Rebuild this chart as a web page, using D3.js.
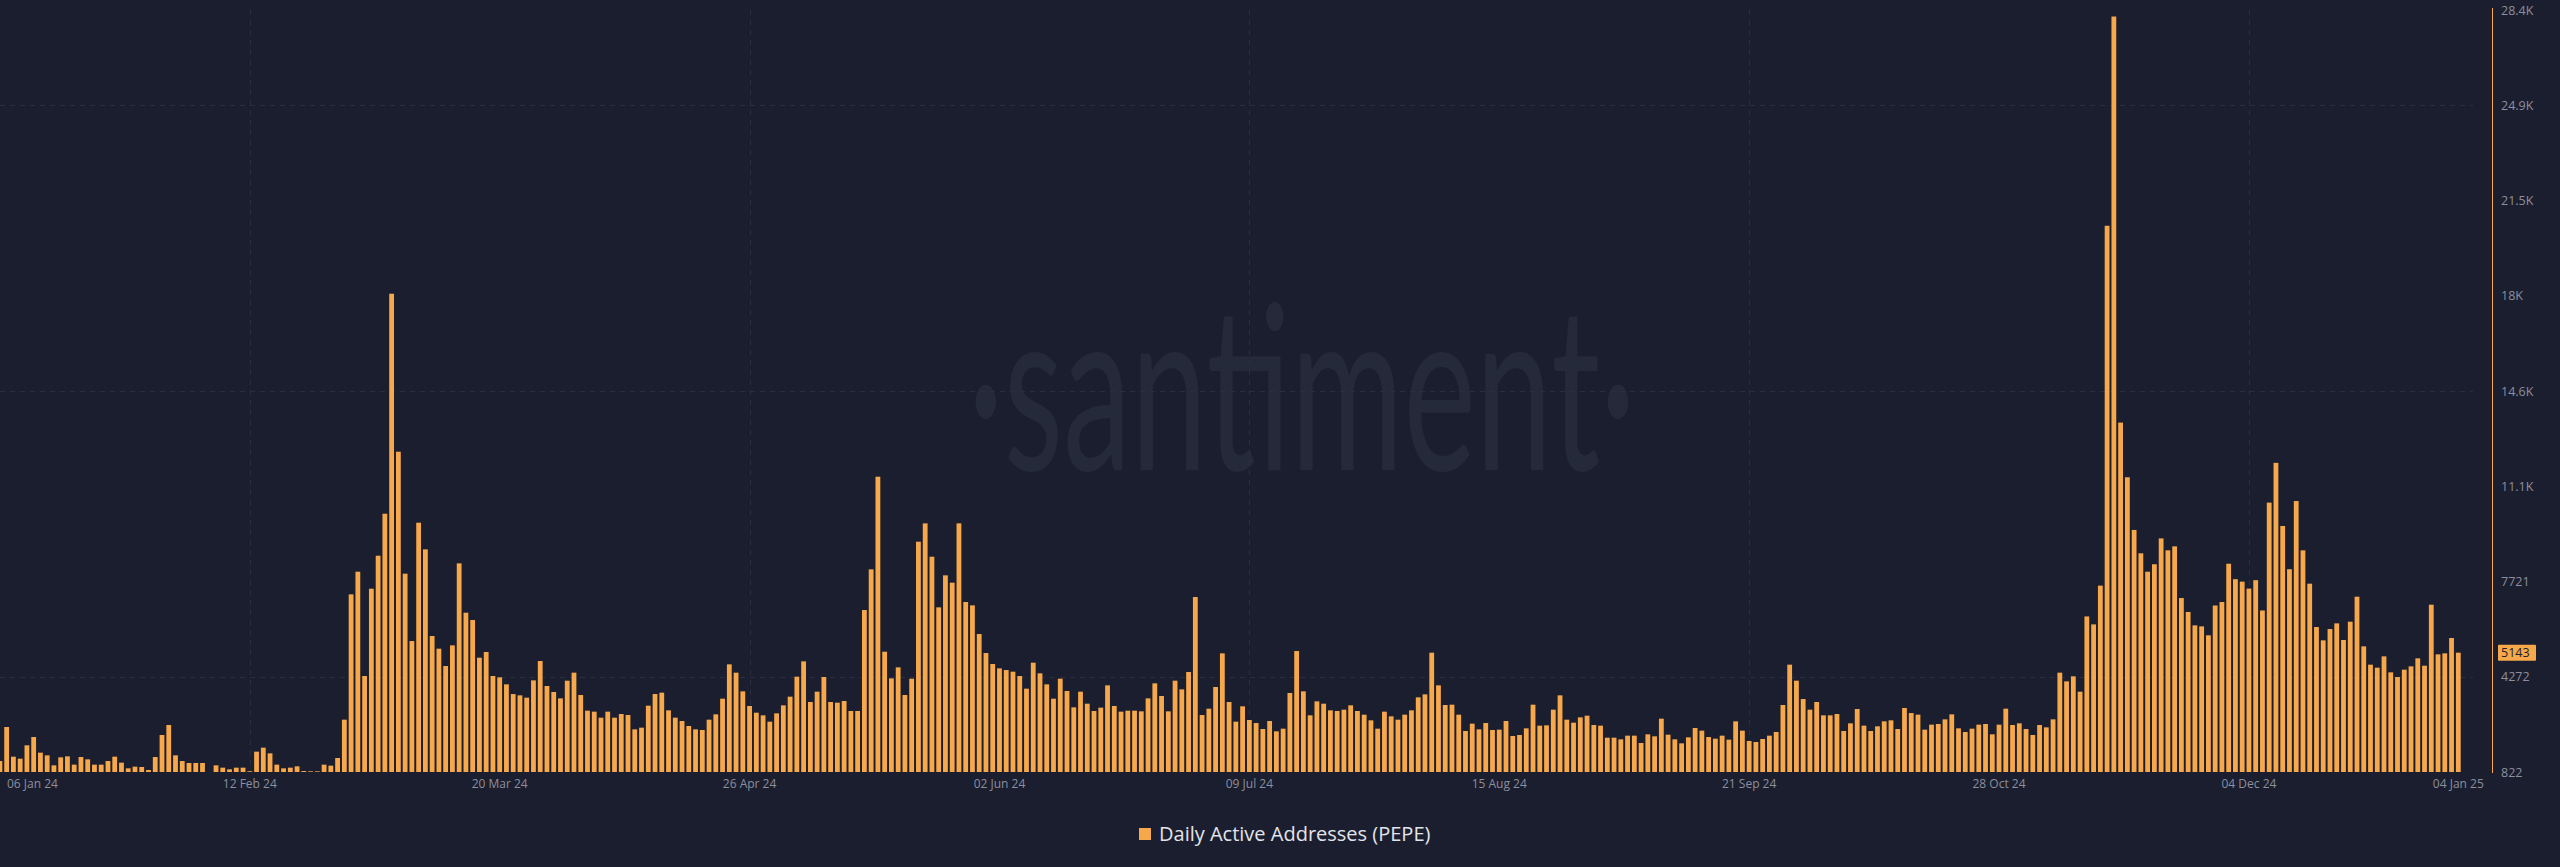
<!DOCTYPE html>
<html><head><meta charset="utf-8">
<script src="https://cdn.jsdelivr.net/npm/d3@7"></script>
<style>html,body{margin:0;padding:0;background:#1b1e2e;overflow:hidden}svg{display:block}</style>
</head><body><svg id="c" width="2560" height="867"></svg>
<script>
const startDate = "2024-01-06";
const values = [
1220,2451,1377,1305,1788,2089,1522,1425,1063,1353,1389,1088,1365,1281,1088,1088,1220,1377,1160,955,
1015,1003,894,1365,2162,2524,1425,1220,1148,1148,1148,822,1063,979,919,979,979,850,1558,1703,
1498,1088,955,979,1027,858,846,846,1088,1051,1329,2717,7255,8076,4298,7460,8655,10176,18143,12421,
8004,5565,9850,8885,5747,5288,4660,5409,8378,6591,6326,4962,5167,4298,4250,3996,3646,3598,3514,4141,
4841,3936,3719,3489,4129,4419,3610,3043,3007,2789,3007,2789,2922,2886,2367,2427,3224,3646,3695,3055,
2789,2669,2488,2367,2343,2717,2910,3477,4721,4419,3743,3212,2970,2874,2645,2946,3236,3550,4274,4829,
3357,3731,4262,3357,3333,3393,3031,3031,6688,8161,11516,5179,4213,4612,3610,4201,9162,9826,8619,6785,
7944,7678,9826,6978,6857,5819,5131,4733,4576,4515,4455,4298,3840,4781,4395,3996,3477,4201,3755,3164,
3731,3296,3031,3152,3960,3212,3007,3043,3043,3019,3489,4033,3574,3019,4129,3815,4443,7159,2886,3115,
3900,5119,3357,2645,3200,2705,2596,2379,2669,2295,2391,3683,5203,3743,2874,3381,3296,3055,3031,3079,
3236,3031,2898,2693,2391,3007,2838,2717,2898,3055,3526,3634,5143,3960,3248,3260,2898,2307,2572,2367,
2596,2343,2355,2669,2126,2162,2403,3260,2500,2512,3079,3598,2717,2608,2801,2862,2524,2500,2065,2065,
2005,2138,2138,1872,2186,2114,2753,2174,2005,1860,2077,2415,2319,2089,2029,2138,1993,2657,2319,1945,
1908,2017,2138,2270,3248,4709,4129,3465,3079,3357,2874,2874,2922,2307,2584,3103,2500,2307,2476,2657,
2693,2379,3139,2958,2898,2355,2536,2560,2729,2910,2403,2270,2391,2536,2560,2186,2536,3115,2524,2584,
2379,2162,2524,2439,2729,4419,4105,4286,3730,6456,6168,7572,20604,28182,13476,11496,9588,8742,8076,8346,
9282,8850,8994,7122,6618,6132,6096,5772,6852,6978,8364,7806,7716,7464,7770,6672,10578,12018,9732,8166,
10635,8849,7642,6072,5590,6000,6205,5602,6265,7171,5372,4709,4600,5010,4431,4262,4528,4648,4938,4672,
6881,5083,5119,5674,5143
];
const yTicks = [822, 4272, 7721, 11171, 14620, 18070, 21519, 24969, 28418];
const yTickLabels = ["822","4272","7721","11.1K","14.6K","18K","21.5K","24.9K","28.4K"];
const xTickDates = ["2024-01-06","2024-02-12","2024-03-20","2024-04-26","2024-06-02","2024-07-09","2024-08-15","2024-09-21","2024-10-28","2024-12-04","2025-01-04"];
const xTickLabels = ["06 Jan 24","12 Feb 24","20 Mar 24","26 Apr 24","02 Jun 24","09 Jul 24","15 Aug 24","21 Sep 24","28 Oct 24","04 Dec 24","04 Jan 25"];
const gridValues = [4272, 14620, 24969];
const gridDates = ["2024-02-12","2024-04-26","2024-07-09","2024-09-21","2024-12-04"];
const seriesName = "Daily Active Addresses (PEPE)";
const lastValue = 5143;

const parse = d3.timeParse("%Y-%m-%d");
const d0 = parse(startDate);
const dates = d3.timeDay.range(d0, d3.timeDay.offset(d0, values.length));
const data = dates.map((d, i) => ({date: d, value: values[i]}));

const ORANGE = "#f7a84a";
const FONT = "'Open Sans', Lato, sans-serif";
const svg = d3.select("#c");
svg.append("rect").attr("width", 2560).attr("height", 867).attr("fill", "#1b1e2e");

const x = d3.scaleTime().domain([dates[0], dates[dates.length - 1]]).range([-0.1, 2458.3]);
const y = d3.scaleLinear().domain([yTicks[0], yTicks[yTicks.length - 1]]).range([772, 10]);
const barW = 4.8;

// watermark
const wm = svg.append("text").text("\u00B7santiment\u00B7")
  .attr("font-family", "Lato, 'Open Sans', sans-serif").attr("font-weight", 400)
  .attr("font-size", 229).attr("fill", "#252a3b").attr("text-anchor", "middle");
const ww = wm.node().getBBox().width;
wm.attr("transform", `translate(1302,470) scale(${668 / ww},1)`);

// gridlines
const grid = svg.append("g").attr("stroke", "#2a2e41").attr("stroke-width", 1).attr("stroke-dasharray", "5,5");
grid.selectAll("line.h").data(gridValues).join("line").attr("class", "h")
  .attr("x1", 0).attr("x2", 2473).attr("y1", d => Math.round(y(d)) + 0.5).attr("y2", d => Math.round(y(d)) + 0.5);
grid.selectAll("line.v").data(gridDates.map(parse)).join("line").attr("class", "v")
  .attr("x1", d => Math.round(x(d)) + 0.5).attr("x2", d => Math.round(x(d)) + 0.5).attr("y1", 10).attr("y2", 772);

// bars
svg.append("g").selectAll("rect").data(data).join("rect")
  .attr("x", d => x(d.date) - barW / 2).attr("width", barW)
  .attr("y", d => y(d.value)).attr("height", d => y(yTicks[0]) - y(d.value))
  .attr("fill", ORANGE);

// y axis
svg.append("line").attr("x1", 2492.5).attr("x2", 2492.5).attr("y1", 8).attr("y2", 773)
  .attr("stroke", ORANGE).attr("stroke-width", 1);
const yAxis = d3.axisRight(y).tickValues(yTicks).tickFormat((d, i) => yTickLabels[i]).tickSize(0).tickPadding(0);
const ya = svg.append("g").attr("transform", "translate(2501,0)").call(yAxis);
ya.select(".domain").remove();
ya.selectAll("text").attr("fill", "#8b8f9e").attr("font-size", 12.5).attr("font-family", FONT);

// last value badge
const by = y(lastValue);
svg.append("rect").attr("x", 2498).attr("y", by - 8).attr("width", 38).attr("height", 16).attr("fill", ORANGE).attr("rx", 1);
svg.append("text").attr("x", 2501).attr("y", by).attr("dy", "0.35em").text(String(lastValue))
  .attr("fill", "#1b1e2e").attr("font-size", 12.5).attr("font-family", FONT);

// x axis labels
const xa = svg.append("g");
xTickDates.forEach((ds, i) => {
  const t = xa.append("text").text(xTickLabels[i]).attr("y", 784).attr("dy", "0.35em")
    .attr("fill", "#8b8f9e").attr("font-size", 12).attr("font-family", FONT)
    .attr("text-anchor", "middle");
  const hw = t.node().getComputedTextLength() / 2;
  const px = Math.min(Math.max(x(parse(ds)), 7 + hw), 2516 - hw);
  t.attr("x", px);
});

// legend
svg.append("rect").attr("x", 1139).attr("y", 828).attr("width", 12).attr("height", 12).attr("fill", ORANGE);
svg.append("text").attr("x", 1159).attr("y", 834).attr("dy", "0.35em").text(seriesName)
  .attr("fill", "#e2e4ea").attr("font-size", 20).attr("font-family", FONT);
</script></body></html>
